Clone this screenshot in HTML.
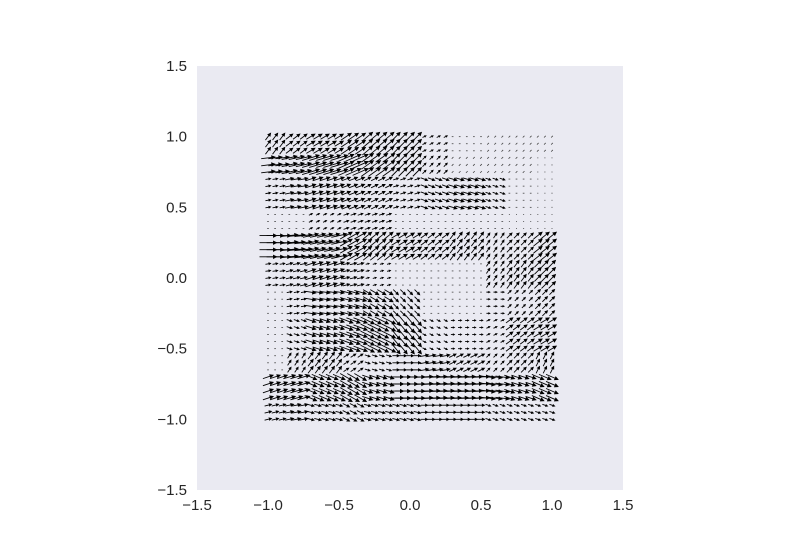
<!DOCTYPE html>
<html><head><meta charset="utf-8"><style>
body{margin:0;background:#fff}
svg text{font-family:"Liberation Sans",sans-serif;font-size:15px;fill:#262626}
</style></head><body>
<svg id="chart" width="800" height="550" xmlns="http://www.w3.org/2000/svg">
<rect x="197" y="66" width="426" height="424" fill="#EAEAF2"/>
<g id="arrows"></g>
<g id="xt"></g>
<g id="yt"></g>
</svg>
<script>
const gridX=[-1,-0.8,-0.6,-0.4,-0.2,0,0.2,0.4,0.6,0.8,1];
const gridY=[1,0.8,0.6,0.4,0.2,0,-0.2,-0.4,-0.6,-0.8,-1];
const uVals=[
[0.3,0.4,0.5,0.6,0.6,0.5,0.2,0.1,0.1,0.1,0.1],
[0.8,0.9,1.0,0.9,0.7,0.5,0.2,0.1,0.1,0.1,0],
[0.3,0.5,0.6,0.5,0.4,0.3,0.4,0.5,0.3,0.1,0],
[0.1,0.1,0.2,0.3,0.3,0.1,0.1,0.1,0.1,0.05,0.05],
[1.0,1.0,0.9,0.7,0.5,0.5,0.4,0.3,0.2,0.3,0.5],
[0.3,0.4,0.6,0.4,0.2,0.1,0.1,0.1,0.2,0.3,0.4],
[0.1,0.3,0.6,0.7,0.5,0.3,0.1,0.1,0.2,0.2,0.3],
[0.1,0.3,0.6,0.8,0.8,0.5,0.2,0.2,0.2,0.4,0.5],
[0.1,0.2,0.3,0.3,0.3,0.4,0.5,0.4,0.2,0.3,0.2],
[0.6,0.7,0.7,0.7,0.6,0.9,1.0,1.0,0.8,0.6,0.7],
[0.4,0.5,0.4,0.4,0.4,0.4,0.4,0.4,0.3,0.3,0.3]];
const vVals=[
[0.4,0.3,0.3,0.4,0.5,0.5,0.1,0,0.1,0.1,0.1],
[0.1,0.2,0.3,0.4,0.5,0.5,0.2,0.1,0.1,0.1,0],
[0.05,0.1,0.2,0.2,0.2,0.1,-0.15,-0.15,-0.1,0,0],
[0,0,0.1,0.1,0.1,0,0,0,0,0,0],
[0,0.1,0.2,0.4,0.4,0.3,0.3,0.4,0.3,0.3,0.4],
[0.05,0.1,0.2,0.1,0.05,0,0,0,0.3,0.4,0.4],
[0,0.05,-0.1,-0.2,-0.3,-0.3,0,0,0,0.2,0.3],
[0,-0.1,-0.2,-0.3,-0.4,-0.6,-0.1,0,0.1,0.3,0.3],
[0,0.3,0.4,0.2,-0.1,0,0.1,0.2,0.2,0.3,0.4],
[0.2,0.2,-0.3,-0.4,-0.2,0,0.05,0.05,-0.1,-0.2,-0.3],
[0.1,0.1,-0.1,-0.2,-0.1,-0.1,0,0,-0.1,-0.1,-0.1]];
const tickVals=[-1.5,-1.0,-0.5,0.0,0.5,1.0,1.5];
const tickLabels=["\u22121.5","\u22121.0","\u22120.5","0.0","0.5","1.0","1.5"];
const NS="http://www.w3.org/2000/svg";
const sx=v=>197+(v+1.5)/3*426;
const sy=v=>490-(v+1.5)/3*424;
const L=17;
const ag=document.getElementById('arrows');
function nearest(arr,v){let b=0;for(let i=1;i<arr.length;i++)if(Math.abs(arr[i]-v)<Math.abs(arr[b]-v))b=i;return b;}
for(let j=0;j<=40;j++){for(let i=0;i<=40;i++){
  const x=-1+i*0.05,y=1-j*0.05;
  const ci=nearest(gridX,x),cj=nearest(gridY,y);
  const u=uVals[cj][ci],v=vVals[cj][ci];
  const x0=sx(x),y0=sy(y);
  const dx=u*L,dy=-v*L,len=Math.hypot(dx,dy);
  const p=document.createElementNS(NS,'path');
  
  
  if(len<3){
    const ux=len>0?dx/len:1,uy=len>0?dy/len:0,q=Math.max(len,1)/2;
    p.setAttribute('d',`M${x0-ux*q},${y0-uy*q}L${x0+ux*q},${y0+uy*q}`);
    p.setAttribute('stroke','#444');p.setAttribute('stroke-width','0.8');
  } else {
    const ux=dx/len,uy=dy/len,x1=x0-dx/2,y1=y0-dy/2,x2=x0+dx/2,y2=y0+dy/2;
    const h=Math.min(3,len*0.3);
    p.setAttribute('d',`M${x1},${y1}L${x2},${y2}M${x2-ux*h-uy*h*0.5},${y2-uy*h+ux*h*0.5}L${x2},${y2}L${x2-ux*h+uy*h*0.5},${y2-uy*h-ux*h*0.5}Z`);
    p.setAttribute('stroke','#000');p.setAttribute('stroke-width','0.9');p.setAttribute('fill','#000');
  }
  ag.appendChild(p);
}}
const xt=document.getElementById('xt'),yt=document.getElementById('yt');
tickVals.forEach((t,k)=>{
  const a=document.createElementNS(NS,'text');
  
  
  a.setAttribute('x',sx(t));a.setAttribute('y',510);a.setAttribute('text-anchor','middle');
  a.textContent=tickLabels[k];xt.appendChild(a);
  const b=document.createElementNS(NS,'text');
  
  
  b.setAttribute('x',187);b.setAttribute('y',sy(t)+5);b.setAttribute('text-anchor','end');
  b.textContent=tickLabels[k];yt.appendChild(b);
});
</script>
</body></html>
